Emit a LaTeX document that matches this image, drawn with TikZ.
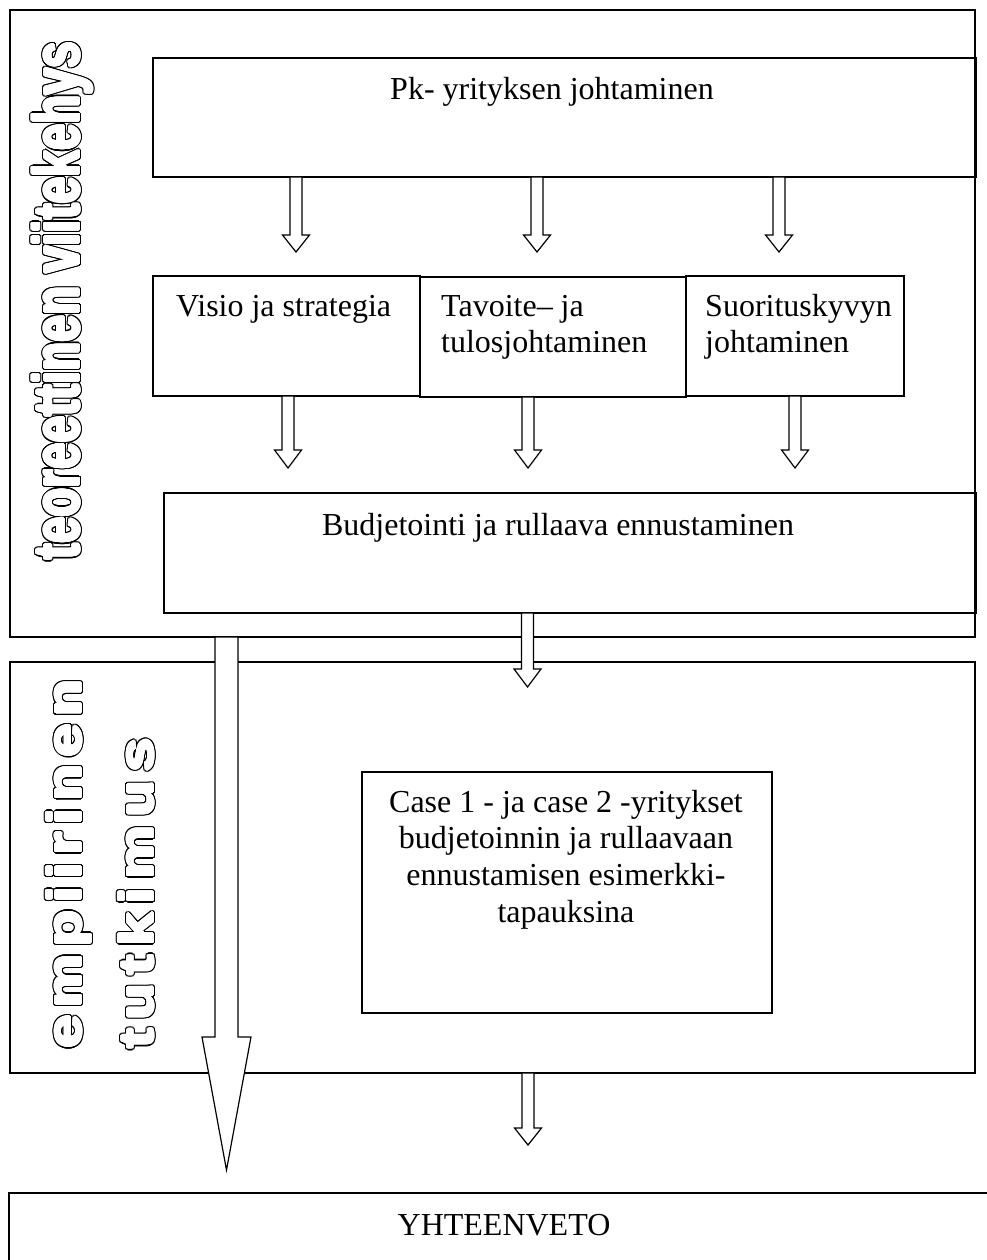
\documentclass[tikz,border=0pt]{standalone}
\usepackage{fontspec}
\usepackage{graphicx}
\setmainfont{Liberation Serif}
\newfontfamily\heavy{Liberation Sans}[UprightFont={* Bold}]
\usetikzlibrary{calc}

% white block arrow with black outline: start, tip, shaft half width, head half width, head length
\newcommand\fatarrow[5]{%
  \filldraw[blockarrow] let \p1=(#1), \p2=(#2) in
    (\x2-#3,\y1) -- (\x2+#3,\y1) -- (\x2+#3,\y2+#5) -- (\x2+#4,\y2+#5)
    -- (\x2,\y2) -- (\x2-#4,\y2+#5) -- (\x2-#3,\y2+#5) -- cycle;}

% outlined vertical lettering: a black halo, then a slightly emboldened white face
\newcommand\halo[3]{%
  \foreach \a in {0,15,...,345}{\node[ghost, text=black, shift={(\a:2.4pt)}] at (#1) {#3};}
  \foreach \a in {0,22.5,...,337.5}{\node[ghost, text=white, shift={(\a:1.1pt)}] at (#1) {#3};}
  \node[ghost, text=white] (#2) at (#1) {#3};}

\newcommand\theoryword{{\heavy\fontsize{64pt}{64pt}\selectfont
  \resizebox{518pt}{\height}{teoreettinen viitekehys}}}
\newcommand\empword{{\heavy\fontsize{47pt}{47pt}\selectfont\scalebox{1.3}[1]{%
  \makebox[284pt][s]{e\hfill m\hfill p\hfill i\hfill i\hfill r\hfill i\hfill n\hfill e\hfill n}}}}
\newcommand\studyword{{\heavy\fontsize{47pt}{47pt}\selectfont\scalebox{1.3}[1]{%
  \makebox[239pt][s]{t\hfill u\hfill t\hfill k\hfill i\hfill m\hfill u\hfill s}}}}

\begin{document}
\begin{tikzpicture}[x=1pt, y=-1pt,
  panel/.style={draw, line width=1.5pt, inner sep=0pt, outer sep=0pt, anchor=north west},
  lbl/.style={inner sep=0pt, font=\fontsize{32pt}{36.8pt}\selectfont},
  ghost/.style={rotate=90, anchor=base west, inner sep=0pt},
  blockarrow/.style={draw=black, fill=white, line width=1.2pt, line join=miter}]
\useasboundingbox (0,0) rectangle (987,1260);
\clip (0,0) rectangle (987,1260);
\fill[white] (0,0) rectangle (987,1260);

% frames
\node[panel, minimum width=965pt, minimum height=627pt] (theory) at (10,10) {};
\node[panel, minimum width=965pt, minimum height=411pt] (empirical) at (10,662) {};

% boxes
\node[panel, minimum width=823pt, minimum height=119pt] (leader) at (153,58) {};
\node[panel, minimum width=267pt, minimum height=120pt] (vision) at (153,276) {};
\node[panel, minimum width=266pt, minimum height=120pt] (goals) at (420,277) {};
\node[panel, minimum width=218pt, minimum height=120pt] (perf) at (686,276) {};
\node[panel, minimum width=812pt, minimum height=120pt] (budget) at (164,493) {};
\node[panel, minimum width=410pt, minimum height=241pt] (cases) at (362,772) {};
\node[panel, minimum width=1000pt, minimum height=200pt] (summary) at (9,1193) {};

% box texts
\node[lbl, anchor=base] (leadertxt) at (552,100) {Pk- yrityksen johtaminen};
\node[lbl, anchor=base west] (visiontxt) at (176,316) {Visio ja strategia};
\node[lbl, anchor=base west] (goalstxt1) at (441,316) {Tavoite– ja};
\node[lbl, anchor=base west] (goalstxt2) at (441,352) {tulosjohtaminen};
\node[lbl, anchor=base west] (perftxt1) at (705,316) {Suorituskyvyn};
\node[lbl, anchor=base west] (perftxt2) at (705,352) {johtaminen};
\node[lbl, anchor=base] (budgettxt) at (558,535) {Budjetointi ja rullaava ennustaminen};
\node[lbl, anchor=base] (casestxt1) at (566,812) {Case 1 - ja case 2 -yritykset};
\node[lbl, anchor=base] (casestxt2) at (566,848.8) {budjetoinnin ja rullaavaan};
\node[lbl, anchor=base] (casestxt3) at (566,885.6) {ennustamisen esimerkki-};
\node[lbl, anchor=base] (casestxt4) at (566,922.4) {tapauksina};
\node[lbl, anchor=base] (summarytxt) at (504,1235) {YHTEENVETO};

% vertical frame titles
\halo{79,560}{theorytitle}{\theoryword}
\halo{81,1049}{emptitle}{\empword}
\halo{153,1049}{studytitle}{\studyword}

% arrow tips
\coordinate (t1) at (296,252);
\coordinate (t2) at (537,252);
\coordinate (t3) at (779,252);
\coordinate (t4) at (288,468);
\coordinate (t5) at (528,468);
\coordinate (t6) at (795,468);
\coordinate (t7) at (527.5,687);
\coordinate (t8) at (528,1145);
\coordinate (t9) at (226.5,1170);

% arrows
\fatarrow{leader.south -| t1}{t1}{6pt}{13.5pt}{17pt}
\fatarrow{leader.south -| t2}{t2}{6pt}{13.5pt}{17pt}
\fatarrow{leader.south -| t3}{t3}{6pt}{13.5pt}{17pt}
\fatarrow{vision.south -| t4}{t4}{6pt}{13.5pt}{18pt}
\fatarrow{goals.south -| t5}{t5}{6pt}{13.5pt}{18pt}
\fatarrow{perf.south -| t6}{t6}{6pt}{13.5pt}{18pt}
\fatarrow{budget.south -| t7}{t7}{6pt}{13.5pt}{18pt}
\fatarrow{empirical.south -| t8}{t8}{6pt}{13.5pt}{17pt}
\fatarrow{theory.south -| t9}{t9}{11.5pt}{24.5pt}{133pt}
\end{tikzpicture}
\end{document}
